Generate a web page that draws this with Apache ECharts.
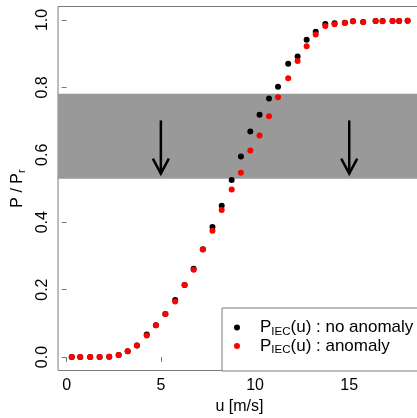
<!DOCTYPE html>
<html>
<head>
<meta charset="utf-8">
<script src="https://cdn.jsdelivr.net/npm/echarts@6/dist/echarts.min.js"></script>
<style>
html,body{margin:0;padding:0;background:#fff;}
#chart{width:417px;height:418px;}
</style>
</head>
<body>
<div id="chart"></div>
<script>
// wind speed bins (m/s)
const windSpeed = [0.27, 0.72, 1.25, 1.75, 2.26, 2.76, 3.24, 3.73, 4.25, 4.74, 5.24, 5.76, 6.26, 6.74, 7.23, 7.74, 8.23, 8.76, 9.25, 9.75, 10.24, 10.74, 11.22, 11.76, 12.26, 12.74, 13.22, 13.73, 14.22, 14.77, 15.2, 15.74, 16.4, 16.77, 17.3, 17.65, 18.1];
// normalized power, no anomaly
const pNoAnomaly = [0, 0, 0, 0, 0.001, 0.006, 0.017, 0.034, 0.067, 0.094, 0.128, 0.169, 0.214, 0.262, 0.320, 0.386, 0.449, 0.525, 0.595, 0.669, 0.719, 0.767, 0.802, 0.870, 0.892, 0.941, 0.965, 0.988, 0.990, 0.992, 0.996, 0.994, 0.997, 0.997, 0.997, 0.997, 0.998];
// normalized power, anomaly
const pAnomaly = [0, 0, 0, 0, 0.001, 0.006, 0.017, 0.034, 0.064, 0.094, 0.128, 0.165, 0.214, 0.259, 0.319, 0.375, 0.436, 0.497, 0.547, 0.613, 0.657, 0.714, 0.771, 0.827, 0.878, 0.922, 0.957, 0.982, 0.987, 0.991, 0.996, 0.994, 0.997, 0.996, 0.997, 0.997, 0.998];
// shaded band
const bandRange = [0.529, 0.781];
// arrows
const arrowU = [5, 15];
const arrowFrom = 0.702;
const arrowTo = 0.544;
// ticks
const xTicks = [0, 5, 10, 15];
const yTicks = [0, 0.2, 0.4, 0.6, 0.8, 1.0];
const legendNames = ['P_IEC(u) : no anomaly', 'P_IEC(u) : anomaly'];

const axisGrey = '#7a7a7a';
const fontFamily = 'Liberation Sans, Arial, sans-serif';

const chart = echarts.init(document.getElementById('chart'), null, {renderer: 'canvas'});

const option = {
  backgroundColor: '#fff',
  animation: false,
  textStyle: {fontFamily: fontFamily},
  grid: {
    left: 58, top: 6.5, width: 363, height: 364,
    show: true, borderColor: axisGrey, borderWidth: 1,
    outerBoundsMode: 'none', containLabel: false
  },
  xAxis: {
    type: 'value', min: -0.46, max: 18.81,
    name: 'u [m/s]', nameLocation: 'middle', nameGap: 27,
    nameTextStyle: {fontSize: 16, color: '#000', fontFamily: fontFamily},
    axisLine: {show: false},
    splitLine: {show: false},
    axisTick: {show: true, length: 5, customValues: xTicks, lineStyle: {color: axisGrey}},
    axisLabel: {customValues: xTicks, fontSize: 16, color: '#000', margin: 7, fontFamily: fontFamily}
  },
  yAxis: {
    type: 'value', min: -0.04, max: 1.04,
    name: '{a|P / P}{r|r}', nameLocation: 'middle', nameGap: 26,
    nameTextStyle: {
      fontSize: 16, color: '#000', fontFamily: fontFamily,
      rich: {
        a: {fontSize: 16, color: '#000', fontFamily: fontFamily, lineHeight: 20},
        r: {fontSize: 11, color: '#000', fontFamily: fontFamily, verticalAlign: 'bottom', lineHeight: 12}
      }
    },
    axisLine: {show: false},
    splitLine: {show: false},
    axisTick: {show: true, length: 5, customValues: yTicks, lineStyle: {color: axisGrey}},
    axisLabel: {customValues: yTicks, rotate: 90, fontSize: 16, color: '#000', margin: 7,
      fontFamily: fontFamily, formatter: v => v.toFixed(1)}
  },
  legend: {
    data: legendNames,
    orient: 'vertical',
    left: 222, top: 308,
    padding: [11, 30, 15, 12],
    itemGap: 0,
    itemWidth: 20, itemHeight: 6,
    icon: 'circle',
    backgroundColor: '#fff',
    borderColor: axisGrey, borderWidth: 1, borderRadius: 0,
    formatter: function (name) {
      const rest = name.split('_IEC')[1];
      return '{p|P}{s|IEC}{n|' + rest + '}';
    },
    textStyle: {
      fontSize: 17, color: '#000', fontFamily: fontFamily,
      rich: {
        p: {fontSize: 17, color: '#000', fontFamily: fontFamily, lineHeight: 20, padding: [0, 0, 0, 8]},
        s: {fontSize: 11.5, color: '#000', fontFamily: fontFamily, verticalAlign: 'bottom', lineHeight: 12},
        n: {fontSize: 17, color: '#000', fontFamily: fontFamily, lineHeight: 20}
      }
    }
  },
  series: [
    {
      type: 'line', data: [], z: 1, silent: true,
      markArea: {
        silent: true,
        itemStyle: {color: '#999999', opacity: 1},
        data: [[{yAxis: bandRange[0]}, {yAxis: bandRange[1]}]]
      }
    },
    {
      name: legendNames[0], type: 'scatter', z: 2,
      symbol: 'circle', symbolSize: 6,
      itemStyle: {color: '#000', opacity: 1},
      data: windSpeed.map((x, i) => [x, pNoAnomaly[i]])
    },
    {
      name: legendNames[1], type: 'scatter', z: 3,
      symbol: 'circle', symbolSize: 6,
      itemStyle: {color: '#ff0000', opacity: 1},
      data: windSpeed.map((x, i) => [x, pAnomaly[i]])
    },
    {
      type: 'custom', z: 4, silent: true,
      data: arrowU.map(x => [x, arrowFrom, arrowTo]),
      renderItem: function (params, api) {
        const p1 = api.coord([api.value(0), api.value(1)]);
        const p2 = api.coord([api.value(0), api.value(2)]);
        const style = {stroke: '#000', lineWidth: 2.5, fill: null};
        return {
          type: 'group',
          children: [
            {type: 'line', shape: {x1: p1[0], y1: p1[1], x2: p2[0], y2: p2[1]}, style: style},
            {type: 'polyline', shape: {points: [[p2[0] - 8, p2[1] - 15], [p2[0], p2[1]], [p2[0] + 8, p2[1] - 15]]}, style: style}
          ]
        };
      }
    }
  ]
};
chart.setOption(option);
</script>
</body>
</html>
